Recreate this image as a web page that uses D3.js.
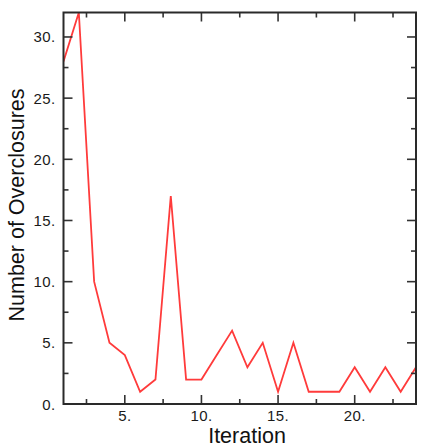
<!DOCTYPE html>
<html>
<head>
<meta charset="utf-8">
<script src="https://cdn.jsdelivr.net/npm/d3@7"></script>
<style>
  body { margin: 0; background: #fff; }
  .tick-label { font-family: "Liberation Sans", Arial, sans-serif; font-size: 15px; fill: #1a1a1a; letter-spacing: 0.4px; }
  .axis-title { font-family: "Liberation Sans", Arial, sans-serif; font-size: 21.5px; fill: #111; }
</style>
</head>
<body>
<div id="chart"></div>
<script>
// data
const iterations = [1, 2, 3, 4, 5, 6, 7, 8, 9, 10, 11, 12, 13, 14, 15, 16, 17, 18, 19, 20, 21, 22, 23, 24];
const overclosures = [28, 32, 10, 5, 4, 1, 2, 17, 2, 2, 4, 6, 3, 5, 1, 5, 1, 1, 1, 3, 1, 3, 1, 3];
const xMajor = [5, 10, 15, 20];
const xMinor = [2.5, 7.5, 12.5, 17.5, 22.5];
const yMajor = [0, 5, 10, 15, 20, 25, 30];
const yMinor = [2.5, 7.5, 12.5, 17.5, 22.5, 27.5];

const W = 426, H = 448;
const margin = {top: 12.5, right: 10, bottom: 44, left: 63.5};
const width = W - margin.left - margin.right;
const height = H - margin.top - margin.bottom;

const svg = d3.select("#chart")
    .append("svg")
    .attr("width", W)
    .attr("height", H);

const g = svg.append("g")
    .attr("transform", "translate(" + margin.left + "," + margin.top + ")");

const x = d3.scaleLinear().domain([1, 24]).range([0, width]);
const y = d3.scaleLinear().domain([0, 32]).range([height, 0]);

// clip so the line stays inside the frame
g.append("clipPath").attr("id", "clip")
    .append("rect").attr("width", width).attr("height", height);

const line = d3.line()
    .x((d, i) => x(iterations[i]))
    .y(d => y(d));

g.append("path")
    .datum(overclosures)
    .attr("clip-path", "url(#clip)")
    .attr("fill", "none")
    .attr("stroke", "#ff3b3b")
    .attr("stroke-width", 1.8)
    .attr("stroke-linejoin", "miter")
    .attr("d", line);

// inward ticks on all four sides
const tickColor = "#333";
function ticks(scale, vals, len, side) {
    vals.forEach(v => {
        const p = scale(v);
        if (side === "bottom") g.append("line").attr("x1", p).attr("x2", p).attr("y1", height).attr("y2", height - len);
        if (side === "top") g.append("line").attr("x1", p).attr("x2", p).attr("y1", 0).attr("y2", len);
        if (side === "left") g.append("line").attr("y1", p).attr("y2", p).attr("x1", 0).attr("x2", len);
        if (side === "right") g.append("line").attr("y1", p).attr("y2", p).attr("x1", width).attr("x2", width - len);
    });
}
ticks(x, xMajor, 9, "bottom"); ticks(x, xMinor, 5, "bottom");
ticks(x, xMajor, 9, "top"); ticks(x, xMinor, 5, "top");
ticks(y, yMajor, 9, "left"); ticks(y, yMinor, 5, "left");
ticks(y, yMajor, 9, "right"); ticks(y, yMinor, 5, "right");
g.selectAll("line").attr("stroke", tickColor).attr("stroke-width", 1.6);

// frame
g.append("rect")
    .attr("width", width)
    .attr("height", height)
    .attr("fill", "none")
    .attr("stroke", "#2a2a2a")
    .attr("stroke-width", 2);

// tick labels
g.selectAll(".xlab")
    .data(xMajor)
    .enter()
    .append("text")
    .attr("class", "tick-label")
    .attr("x", d => x(d))
    .attr("y", height + 17)
    .attr("text-anchor", "middle")
    .text(d => d + ".");

g.selectAll(".ylab")
    .data(yMajor)
    .enter()
    .append("text")
    .attr("class", "tick-label")
    .attr("x", -8)
    .attr("y", d => y(d) + 5.5)
    .attr("text-anchor", "end")
    .text(d => d + ".");

// axis titles
svg.append("text")
    .attr("class", "axis-title")
    .attr("x", 247)
    .attr("y", 443)
    .attr("text-anchor", "middle")
    .text("Iteration");

svg.append("text")
    .attr("class", "axis-title")
    .attr("transform", "translate(24,205) rotate(-90)")
    .attr("text-anchor", "middle")
    .text("Number of Overclosures");
</script>
</body>
</html>
